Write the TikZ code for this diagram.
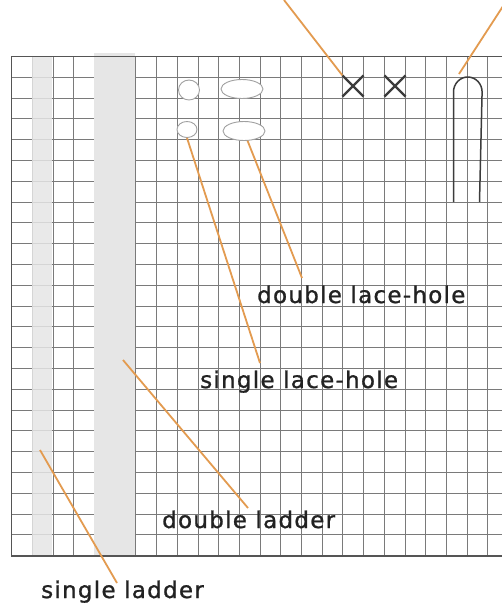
\documentclass[tikz,border=0pt]{standalone}
\usepackage{fontspec}
\newfontfamily\labfont[LetterSpace=5.5,FakeBold=1]{DejaVu Sans}
\usetikzlibrary{shapes.geometric,shapes.misc}
\definecolor{gridc}{HTML}{7A7A7A}
\definecolor{borderc}{HTML}{555555}
\definecolor{bandc}{HTML}{E6E6E6}
\definecolor{leadc}{HTML}{E39B50}
\definecolor{markc}{HTML}{3C3C3C}
\definecolor{holec}{HTML}{A0A0A0}
\definecolor{textc}{HTML}{222222}
\tikzset{
  gridline/.style={draw=gridc, line width=1pt},
  borderline/.style={draw=borderc, line width=1.4pt},
  band/.style={fill=bandc, draw=none},
  hole/.style={ellipse, draw=holec, fill=white, line width=0.9pt, inner sep=0pt},
  xmark/.style={cross out, draw=markc, line width=2.2pt, minimum size=19pt, inner sep=0pt},
  loopline/.style={draw=markc, line width=1.5pt},
  leader/.style={draw=leadc, line width=1.8pt},
  lab/.style={font=\labfont\fontsize{23}{27}\selectfont, text=textc, inner sep=0pt, anchor=base west}
}
\begin{document}
\begin{tikzpicture}[x=1pt,y=-1pt]
\useasboundingbox (0,0) rectangle (502,606);
\fill[white] (0,0) rectangle (502,606);
% grid
\foreach \i in {0,...,23} {
  \draw[gridline] ({11.7+20.7*\i},56.5) -- ({11.7+20.7*\i},556);
}
\foreach \j in {0,...,24} {
  \draw[gridline] (11.7,{56.5+20.8*\j}) -- (502,{56.5+20.8*\j});
}
% ladders
\fill[band, opacity=0.85] (32.4,57) rectangle (51.7,555.5);
\fill[band] (94,53) rectangle (135.2,555.5);
\draw[gridline] (135.9,56.5) -- (135.9,556);
% border
\draw[borderline] (502,56.5) -- (11.7,56.5) -- (11.7,556) -- (502,556);
% lace holes
\node[hole, minimum width=21pt, minimum height=20pt] (slh1) at (189,90) {};
\node[hole, minimum width=20pt, minimum height=16pt] (slh2) at (187,129.5) {};
\node[hole, minimum width=42pt, minimum height=19pt] (dlh1) at (242,89) {};
\node[hole, minimum width=42pt, minimum height=19pt] (dlh2) at (244,131) {};
% crosses
\node[xmark] (x1) at (353,86) {};
\node[xmark] (x2) at (395,86) {};
% loop
\draw[loopline] (453.5,202) -- (453.5,92) arc[start angle=180, end angle=0, x radius=14.3pt, y radius=15pt] -- (479.5,202);
\coordinate (looptop) at (459,74);
% labels
\node[lab] (lbDLH) at (257,303) {double lace-hole};
\node[lab] (lbSLH) at (200,388) {single lace-hole};
\node[lab] (lbDL) at (162,528) {double ladder};
\node[lab] (lbSL) at (41,598) {single ladder};
% leader ends
\coordinate (topA) at (284,0);
\coordinate (topB) at (507,0);
\coordinate (endSLH) at (260,363);
\coordinate (endDLH) at (302,278);
\coordinate (startDL) at (123,360);
\coordinate (endDL) at (248,508);
\coordinate (startSL) at (40,450);
\coordinate (endSL) at (117,583);
% leaders
\draw[leader] (topA) -- (x1.north west);
\draw[leader] (topB) -- (looptop);
\draw[leader] (slh2.south) -- (endSLH);
\draw[leader] (dlh2.-70) -- (endDLH);
\draw[leader] (startDL) -- (endDL);
\draw[leader] (startSL) -- (endSL);
\end{tikzpicture}
\end{document}
